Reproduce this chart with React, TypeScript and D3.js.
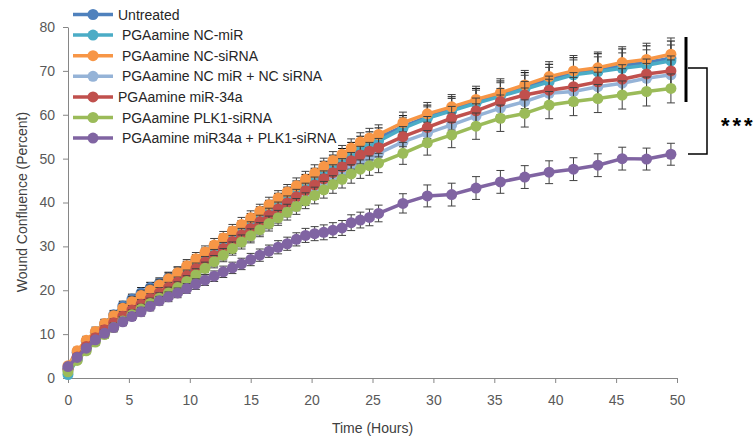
import React, { useEffect, useRef } from 'react'
import * as d3 from 'd3'

// time points (hours) of the scratch assay
const timeHours = [0, 0.75, 1.5, 2.25, 3, 3.75, 4.5, 5.25, 6, 6.75, 7.5, 8.25, 9, 9.75, 10.5, 11.25, 12, 12.75, 13.5, 14.25, 15, 15.75, 16.5, 17.25, 18, 18.75, 19.5, 20.25, 21, 21.75, 22.5, 23.25, 24, 24.75, 25.5, 27.5, 29.5, 31.5, 33.5, 35.5, 37.5, 39.5, 41.5, 43.5, 45.5, 47.5, 49.5]

// wound confluence (%) per group
const untreated = [2.2, 5.8, 8.3, 10.4, 12.3, 14.4, 16.4, 18.0, 19.4, 20.6, 21.6, 22.8, 24.0, 25.3, 26.7, 28.2, 29.7, 31.3, 32.9, 34.4, 35.9, 37.4, 38.9, 40.4, 41.8, 43.2, 44.6, 46.0, 47.5, 48.9, 50.3, 51.7, 53.0, 54.0, 54.8, 57.3, 59.5, 61.2, 62.9, 64.5, 66.2, 68.0, 69.4, 70.2, 71.2, 71.9, 72.9]
const ncMir = [0.8, 4.2, 7.0, 9.3, 11.3, 13.2, 15.0, 16.6, 18.0, 19.3, 20.5, 21.8, 23.1, 24.6, 26.2, 27.7, 29.3, 30.9, 32.5, 34.0, 35.5, 37.0, 38.5, 39.9, 41.3, 42.7, 44.2, 45.6, 47.0, 48.4, 49.7, 51.1, 52.4, 53.3, 54.0, 56.9, 59.2, 60.9, 62.6, 64.2, 65.8, 67.5, 69.1, 69.8, 70.6, 71.3, 72.3]
const ncSirna = [2.8, 6.2, 8.6, 10.6, 12.4, 14.2, 15.9, 17.4, 18.8, 20.0, 21.2, 22.6, 24.0, 25.6, 27.2, 28.7, 30.3, 31.9, 33.5, 35.0, 36.5, 38.0, 39.5, 41.0, 42.4, 43.8, 45.3, 46.7, 48.2, 49.6, 51.0, 52.4, 53.8, 54.7, 55.5, 58.2, 60.2, 61.8, 63.5, 65.0, 66.8, 68.7, 70.0, 70.7, 71.9, 72.6, 73.8]
const ncBoth = [1.8, 4.3, 6.6, 8.6, 10.3, 11.9, 13.3, 14.7, 16.0, 17.3, 18.5, 19.7, 20.9, 22.3, 23.8, 25.3, 26.8, 28.3, 29.8, 31.3, 32.7, 34.1, 35.5, 36.9, 38.3, 39.7, 41.0, 42.4, 43.8, 45.1, 46.4, 47.8, 49.1, 50.3, 51.2, 53.8, 55.8, 57.7, 59.7, 61.5, 63.0, 64.9, 65.3, 66.4, 67.2, 68.3, 69.1]
const mir34a = [2.0, 4.8, 7.2, 9.2, 11.0, 12.6, 14.1, 15.5, 16.8, 18.1, 19.4, 20.6, 21.8, 23.3, 24.9, 26.4, 27.9, 29.5, 31.1, 32.6, 34.1, 35.6, 37.1, 38.5, 39.9, 41.3, 42.7, 44.0, 45.4, 46.8, 48.1, 49.5, 50.8, 51.7, 52.5, 55.0, 57.1, 59.2, 60.9, 63.0, 64.5, 65.6, 66.4, 67.5, 68.1, 69.3, 70.0]
const plk1 = [1.4, 4.0, 6.2, 8.2, 9.9, 11.5, 13.0, 14.4, 15.7, 17.0, 18.2, 19.4, 20.6, 22.0, 23.5, 25.0, 26.5, 28.0, 29.5, 31.0, 32.4, 33.8, 35.2, 36.5, 37.8, 39.1, 40.4, 41.6, 42.9, 44.1, 45.3, 46.5, 47.6, 48.4, 49.0, 51.2, 53.6, 55.4, 57.4, 59.2, 60.3, 62.2, 63.0, 63.7, 64.5, 65.3, 66.0]
const combo = [2.6, 4.7, 6.8, 8.7, 10.2, 11.5, 12.8, 14.0, 15.1, 16.3, 17.6, 18.5, 19.4, 20.4, 21.4, 22.3, 23.2, 24.2, 25.1, 26.0, 27.0, 28.0, 28.9, 29.8, 30.6, 31.6, 32.5, 32.9, 33.2, 33.7, 34.2, 35.4, 36.0, 36.6, 37.5, 39.8, 41.5, 41.8, 43.3, 44.7, 45.8, 46.9, 47.6, 48.5, 50.0, 49.9, 51.0]

// error bar half-heights
const errUntreated = [0.5, 0.7, 0.8, 0.9, 1.0, 1.0, 1.1, 1.1, 1.2, 1.2, 1.2, 1.3, 1.3, 1.3, 1.4, 1.4, 1.4, 1.5, 1.5, 1.5, 1.6, 1.6, 1.6, 1.7, 1.7, 1.7, 1.8, 1.8, 1.9, 1.9, 2.0, 2.0, 2.1, 2.1, 2.2, 2.5, 2.7, 2.9, 3.1, 3.2, 3.4, 3.5, 3.6, 3.7, 3.8, 3.8, 3.9]
const errNcMir = [0.5, 0.6, 0.7, 0.8, 0.9, 1.0, 1.0, 1.1, 1.1, 1.2, 1.2, 1.2, 1.3, 1.3, 1.3, 1.4, 1.4, 1.4, 1.5, 1.5, 1.5, 1.6, 1.6, 1.6, 1.7, 1.7, 1.8, 1.8, 1.8, 1.9, 1.9, 2.0, 2.0, 2.1, 2.1, 2.4, 2.6, 2.8, 3.0, 3.1, 3.2, 3.3, 3.4, 3.4, 3.5, 3.5, 3.6]
const errNcSirna = [0.6, 0.8, 0.9, 1.0, 1.0, 1.1, 1.1, 1.2, 1.2, 1.2, 1.3, 1.3, 1.3, 1.4, 1.4, 1.4, 1.5, 1.5, 1.5, 1.6, 1.6, 1.6, 1.7, 1.7, 1.7, 1.8, 1.8, 1.9, 1.9, 2.0, 2.0, 2.1, 2.1, 2.2, 2.2, 2.4, 2.6, 2.8, 3.0, 3.2, 3.3, 3.4, 3.5, 3.6, 3.6, 3.7, 3.7]
const errNcBoth = [0.5, 0.6, 0.7, 0.8, 0.8, 0.9, 1.0, 1.0, 1.1, 1.1, 1.1, 1.2, 1.2, 1.2, 1.3, 1.3, 1.3, 1.4, 1.4, 1.4, 1.5, 1.5, 1.5, 1.6, 1.6, 1.6, 1.7, 1.7, 1.7, 1.8, 1.8, 1.9, 1.9, 2.0, 2.0, 2.3, 2.5, 2.7, 2.8, 3.0, 3.1, 3.2, 3.2, 3.3, 3.3, 3.4, 3.4]
const errMir34a = [0.5, 0.6, 0.7, 0.8, 0.9, 0.9, 1.0, 1.0, 1.1, 1.1, 1.2, 1.2, 1.2, 1.3, 1.3, 1.3, 1.4, 1.4, 1.4, 1.5, 1.5, 1.5, 1.6, 1.6, 1.6, 1.7, 1.7, 1.8, 1.8, 1.8, 1.9, 1.9, 2.0, 2.0, 2.1, 2.3, 2.5, 2.7, 2.9, 3.0, 3.1, 3.2, 3.2, 3.3, 3.3, 3.4, 3.4]
const errPlk1 = [0.5, 0.6, 0.7, 0.8, 0.9, 1.0, 1.0, 1.1, 1.1, 1.2, 1.2, 1.3, 1.3, 1.3, 1.4, 1.4, 1.4, 1.5, 1.5, 1.6, 1.6, 1.6, 1.7, 1.7, 1.8, 1.8, 1.8, 1.9, 1.9, 2.0, 2.0, 2.1, 2.1, 2.2, 2.2, 2.5, 2.8, 2.9, 3.0, 3.0, 3.1, 3.1, 3.2, 3.2, 3.2, 3.3, 3.3]
const errCombo = [0.5, 0.6, 0.7, 0.7, 0.8, 0.8, 0.9, 0.9, 1.0, 1.0, 1.0, 1.1, 1.1, 1.1, 1.2, 1.2, 1.2, 1.3, 1.3, 1.3, 1.4, 1.4, 1.4, 1.5, 1.5, 1.5, 1.6, 1.6, 1.7, 1.7, 1.7, 1.8, 1.8, 1.9, 1.9, 2.2, 2.5, 2.6, 2.6, 2.6, 2.6, 2.6, 2.6, 2.6, 2.6, 2.5, 2.5]

const seriesNames = ['Untreated', ' PGAamine NC-miR', ' PGAamine NC-siRNA', ' PGAamine NC miR + NC siRNA', 'PGAamine miR-34a', ' PGAamine PLK1-siRNA', ' PGAamine miR34a + PLK1-siRNA']
const seriesValues = [untreated, ncMir, ncSirna, ncBoth, mir34a, plk1, combo]
const seriesErrors = [errUntreated, errNcMir, errNcSirna, errNcBoth, errMir34a, errPlk1, errCombo]
const seriesColors = ['#4F81BD', '#4BACC6', '#F79646', '#95B3D7', '#C0504D', '#9BBB59', '#8064A2']
const errColors = ['#000000', '#404040', '#404040', '#404040', '#404040', '#404040', '#404040']

const xTicks = [0, 5, 10, 15, 20, 25, 30, 35, 40, 45, 50]
const yTicks = [0, 10, 20, 30, 40, 50, 60, 70, 80]

const plot = { left: 68, right: 677, top: 27, bottom: 378 }
const font = "'Liberation Sans', Arial, sans-serif"

export default function App() {
  const ref = useRef<SVGSVGElement>(null)

  useEffect(() => {
    const svg = d3.select(ref.current)
    svg.selectAll('*').remove()

    const x = d3.scaleLinear().domain([0, 50]).range([plot.left, plot.right])
    const y = d3.scaleLinear().domain([0, 80]).range([plot.bottom, plot.top])

    // axes
    const gx = svg.append('g')
      .attr('transform', `translate(0,${plot.bottom})`)
      .call(d3.axisBottom(x).tickValues(xTicks).tickSize(5).tickSizeOuter(0).tickPadding(12))
    const gy = svg.append('g')
      .attr('transform', `translate(${plot.left},0)`)
      .call(d3.axisLeft(y).tickValues(yTicks).tickSize(5).tickSizeOuter(0).tickPadding(8))
    for (const g of [gx, gy]) {
      g.attr('font-family', font).attr('font-size', 14)
      g.select('.domain').attr('stroke', '#868686')
      g.selectAll('.tick line').attr('stroke', '#868686')
      g.selectAll('.tick text').attr('fill', '#595959')
    }

    svg.append('text')
      .attr('x', (plot.left + plot.right) / 2)
      .attr('y', 433)
      .attr('text-anchor', 'middle')
      .attr('font-family', font).attr('font-size', 14).attr('fill', '#404040')
      .text('Time (Hours)')
    svg.append('text')
      .attr('transform', 'translate(27,202) rotate(-90)')
      .attr('text-anchor', 'middle')
      .attr('font-family', font).attr('font-size', 14).attr('fill', '#404040')
      .text('Wound  Confluence (Percent)')

    // series: error bars, line, markers
    const line = d3.line<number>()
      .x((d, i) => x(timeHours[i]))
      .y(d => y(d))
    seriesValues.forEach((vals, s) => {
      const g = svg.append('g')
      const errs = seriesErrors[s]
      const eb = g.append('g').attr('stroke', errColors[s]).attr('stroke-width', 1)
      vals.forEach((v, i) => {
        const cx = x(timeHours[i])
        const y0 = y(v - errs[i]), y1 = y(v + errs[i])
        eb.append('line').attr('x1', cx).attr('x2', cx).attr('y1', y0).attr('y2', y1)
        eb.append('line').attr('x1', cx - 4).attr('x2', cx + 4).attr('y1', y0).attr('y2', y0)
        eb.append('line').attr('x1', cx - 4).attr('x2', cx + 4).attr('y1', y1).attr('y2', y1)
      })
      g.append('path')
        .datum(vals)
        .attr('fill', 'none')
        .attr('stroke', seriesColors[s])
        .attr('stroke-width', 3.5)
        .attr('stroke-linejoin', 'round')
        .attr('d', line)
      g.selectAll('circle')
        .data(vals)
        .enter()
        .append('circle')
        .attr('cx', (d, i) => x(timeHours[i]))
        .attr('cy', d => y(d))
        .attr('r', 5.5)
        .attr('fill', seriesColors[s])
    })

    // legend
    const lg = svg.append('g')
    seriesNames.forEach((name, s) => {
      const ly = 14.5 + s * 20.6
      lg.append('line')
        .attr('x1', 73).attr('x2', 113).attr('y1', ly).attr('y2', ly)
        .attr('stroke', seriesColors[s]).attr('stroke-width', 3.5)
      lg.append('circle').attr('cx', 93).attr('cy', ly).attr('r', 5.5).attr('fill', seriesColors[s])
      lg.append('text')
        .attr('x', 118).attr('y', ly + 5)
        .attr('xml:space', 'preserve')
        .attr('font-family', font).attr('font-size', 14).attr('fill', '#262626')
        .text(name)
    })

    // significance bracket
    svg.append('line')
      .attr('x1', 686).attr('x2', 686).attr('y1', 37).attr('y2', 102)
      .attr('stroke', '#000').attr('stroke-width', 3)
    svg.append('path')
      .attr('d', 'M688,68H707V154H688')
      .attr('fill', 'none').attr('stroke', '#000').attr('stroke-width', 1.5)
    svg.append('text')
      .attr('x', 721).attr('y', 133)
      .attr('font-family', font).attr('font-size', 22).attr('font-weight', 'bold')
      .attr('letter-spacing', 3)
      .attr('fill', '#000')
      .text('***')
  }, [])

  return (
    <svg
      ref={ref}
      width={756}
      height={438}
      style={{ position: 'absolute', left: 0, top: 0, background: '#fff' }}
    />
  )
}
